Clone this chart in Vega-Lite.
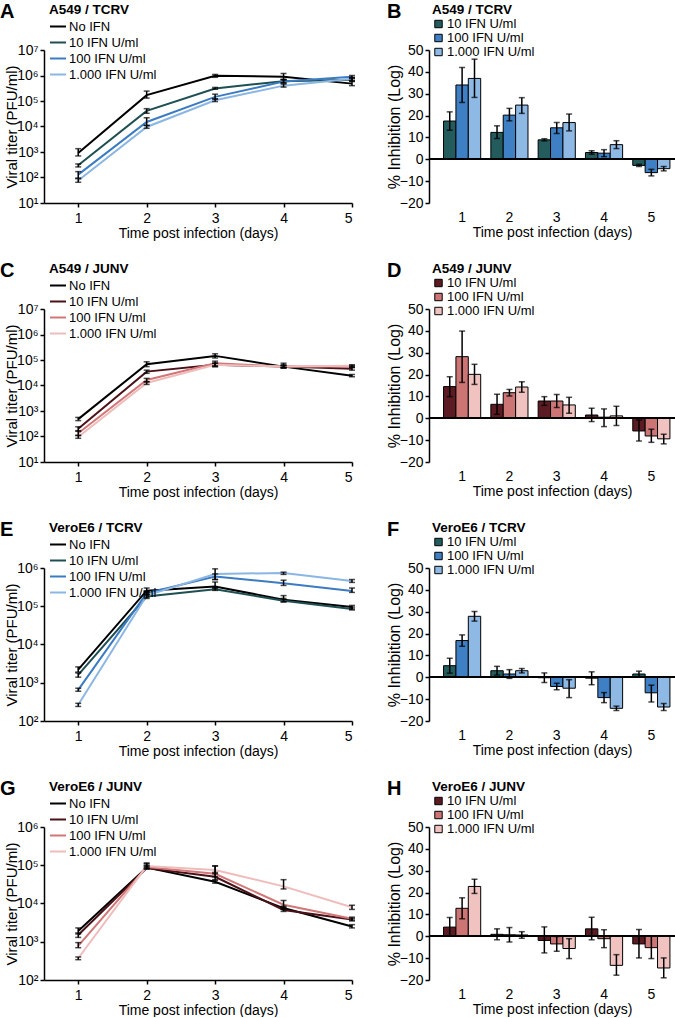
{
"$schema": "https://vega.github.io/schema/vega-lite/v6.json",
"padding": {"top": 2, "left": 0, "right": 0, "bottom": 0},
"columns": 2,
"spacing": {"row": 106, "column": 77},
"bounds": "flush",
"resolve": {"scale": {"color": "independent", "x": "independent", "y": "independent", "xOffset": "independent"}, "legend": {"color": "independent"}},
"config": {
  "font": "Liberation Sans",
  "view": {"stroke": null},
  "axis": {"labelFontSize": 14, "titleFontSize": 14, "titleFontWeight": "normal", "labelColor": "black", "titleColor": "black", "domainColor": "black", "tickColor": "black", "domainWidth": 1.5, "tickWidth": 1.5, "tickSize": 4, "grid": false, "labelOverlap": false},
  "legend": {"orient": "none", "titleFontSize": 13.5, "titleFontWeight": "bold", "titleColor": "black", "labelFontSize": 13, "labelColor": "black", "rowPadding": 0, "padding": 0, "titlePadding": 1, "labelOffset": 2},
  "title": {"anchor": "start", "frame": "group", "fontSize": 20, "fontWeight": "bold", "color": "black", "baseline": "alphabetic", "offset": -19}
},
"datasets": {
"lines": [
{"p":"A","g":"No IFN","d":1,"v":920,"lo":700,"hi":1350},
{"p":"A","g":"No IFN","d":2,"v":170000,"lo":130000,"hi":245000},
{"p":"A","g":"No IFN","d":3,"v":980000,"lo":850000,"hi":1100000},
{"p":"A","g":"No IFN","d":4,"v":900000,"lo":700000,"hi":1200000},
{"p":"A","g":"No IFN","d":5,"v":480000,"lo":400000,"hi":600000},
{"p":"A","g":"10 IFN U/ml","d":1,"v":300,"lo":260,"hi":340},
{"p":"A","g":"10 IFN U/ml","d":2,"v":41000,"lo":33000,"hi":50000},
{"p":"A","g":"10 IFN U/ml","d":3,"v":310000,"lo":290000,"hi":340000},
{"p":"A","g":"10 IFN U/ml","d":4,"v":600000,"lo":520000,"hi":700000},
{"p":"A","g":"10 IFN U/ml","d":5,"v":680000,"lo":580000,"hi":780000},
{"p":"A","g":"100 IFN U/ml","d":1,"v":130,"lo":95,"hi":170},
{"p":"A","g":"100 IFN U/ml","d":2,"v":15000,"lo":11000,"hi":22000},
{"p":"A","g":"100 IFN U/ml","d":3,"v":145000,"lo":120000,"hi":185000},
{"p":"A","g":"100 IFN U/ml","d":4,"v":580000,"lo":500000,"hi":680000},
{"p":"A","g":"100 IFN U/ml","d":5,"v":900000,"lo":800000,"hi":1000000},
{"p":"A","g":"1.000 IFN U/ml","d":1,"v":76,"lo":65,"hi":90},
{"p":"A","g":"1.000 IFN U/ml","d":2,"v":9600,"lo":8500,"hi":11000},
{"p":"A","g":"1.000 IFN U/ml","d":3,"v":107000,"lo":95000,"hi":120000},
{"p":"A","g":"1.000 IFN U/ml","d":4,"v":400000,"lo":350000,"hi":460000},
{"p":"A","g":"1.000 IFN U/ml","d":5,"v":750000,"lo":650000,"hi":850000},
{"p":"C","g":"No IFN","d":1,"v":480,"lo":420,"hi":560},
{"p":"C","g":"No IFN","d":2,"v":68000,"lo":55000,"hi":85000},
{"p":"C","g":"No IFN","d":3,"v":145000,"lo":120000,"hi":175000},
{"p":"C","g":"No IFN","d":4,"v":55000,"lo":48000,"hi":75000},
{"p":"C","g":"No IFN","d":5,"v":24000,"lo":22000,"hi":27000},
{"p":"C","g":"10 IFN U/ml","d":1,"v":200,"lo":160,"hi":240},
{"p":"C","g":"10 IFN U/ml","d":2,"v":35000,"lo":30000,"hi":40000},
{"p":"C","g":"10 IFN U/ml","d":3,"v":65000,"lo":55000,"hi":75000},
{"p":"C","g":"10 IFN U/ml","d":4,"v":55000,"lo":50000,"hi":65000},
{"p":"C","g":"10 IFN U/ml","d":5,"v":45000,"lo":40000,"hi":52000},
{"p":"C","g":"100 IFN U/ml","d":1,"v":135,"lo":110,"hi":170},
{"p":"C","g":"100 IFN U/ml","d":2,"v":16500,"lo":14000,"hi":19000},
{"p":"C","g":"100 IFN U/ml","d":3,"v":75000,"lo":60000,"hi":90000},
{"p":"C","g":"100 IFN U/ml","d":4,"v":55000,"lo":50000,"hi":60000},
{"p":"C","g":"100 IFN U/ml","d":5,"v":55000,"lo":50000,"hi":60000},
{"p":"C","g":"1.000 IFN U/ml","d":1,"v":95,"lo":85,"hi":110},
{"p":"C","g":"1.000 IFN U/ml","d":2,"v":12500,"lo":11000,"hi":14000},
{"p":"C","g":"1.000 IFN U/ml","d":3,"v":65000,"lo":55000,"hi":75000},
{"p":"C","g":"1.000 IFN U/ml","d":4,"v":55000,"lo":50000,"hi":60000},
{"p":"C","g":"1.000 IFN U/ml","d":5,"v":60000,"lo":55000,"hi":65000},
{"p":"E","g":"No IFN","d":1,"v":2200,"lo":1900,"hi":2600},
{"p":"E","g":"No IFN","d":2,"v":255000,"lo":230000,"hi":300000},
{"p":"E","g":"No IFN","d":3,"v":330000,"lo":300000,"hi":430000},
{"p":"E","g":"No IFN","d":4,"v":148000,"lo":130000,"hi":190000},
{"p":"E","g":"No IFN","d":5,"v":95000,"lo":85000,"hi":105000},
{"p":"E","g":"10 IFN U/ml","d":1,"v":1600,"lo":1400,"hi":1800},
{"p":"E","g":"10 IFN U/ml","d":2,"v":180000,"lo":160000,"hi":200000},
{"p":"E","g":"10 IFN U/ml","d":3,"v":280000,"lo":260000,"hi":300000},
{"p":"E","g":"10 IFN U/ml","d":4,"v":140000,"lo":130000,"hi":160000},
{"p":"E","g":"10 IFN U/ml","d":5,"v":85000,"lo":80000,"hi":95000},
{"p":"E","g":"100 IFN U/ml","d":1,"v":650,"lo":600,"hi":720},
{"p":"E","g":"100 IFN U/ml","d":2,"v":220000,"lo":200000,"hi":240000},
{"p":"E","g":"100 IFN U/ml","d":3,"v":600000,"lo":500000,"hi":700000},
{"p":"E","g":"100 IFN U/ml","d":4,"v":400000,"lo":350000,"hi":480000},
{"p":"E","g":"100 IFN U/ml","d":5,"v":250000,"lo":230000,"hi":300000},
{"p":"E","g":"1.000 IFN U/ml","d":1,"v":265,"lo":240,"hi":290},
{"p":"E","g":"1.000 IFN U/ml","d":2,"v":190000,"lo":170000,"hi":210000},
{"p":"E","g":"1.000 IFN U/ml","d":3,"v":700000,"lo":500000,"hi":950000},
{"p":"E","g":"1.000 IFN U/ml","d":4,"v":740000,"lo":680000,"hi":780000},
{"p":"E","g":"1.000 IFN U/ml","d":5,"v":460000,"lo":420000,"hi":500000},
{"p":"G","g":"No IFN","d":1,"v":1900,"lo":1600,"hi":2300},
{"p":"G","g":"No IFN","d":2,"v":87000,"lo":80000,"hi":95000},
{"p":"G","g":"No IFN","d":3,"v":37000,"lo":34000,"hi":40000},
{"p":"G","g":"No IFN","d":4,"v":7600,"lo":7000,"hi":8500},
{"p":"G","g":"No IFN","d":5,"v":2500,"lo":2300,"hi":2800},
{"p":"G","g":"10 IFN U/ml","d":1,"v":1500,"lo":1300,"hi":1700},
{"p":"G","g":"10 IFN U/ml","d":2,"v":85000,"lo":80000,"hi":115000},
{"p":"G","g":"10 IFN U/ml","d":3,"v":50000,"lo":42000,"hi":60000},
{"p":"G","g":"10 IFN U/ml","d":4,"v":6800,"lo":6200,"hi":7500},
{"p":"G","g":"10 IFN U/ml","d":5,"v":3800,"lo":3500,"hi":4100},
{"p":"G","g":"100 IFN U/ml","d":1,"v":780,"lo":700,"hi":950},
{"p":"G","g":"100 IFN U/ml","d":2,"v":90000,"lo":85000,"hi":100000},
{"p":"G","g":"100 IFN U/ml","d":3,"v":60000,"lo":50000,"hi":95000},
{"p":"G","g":"100 IFN U/ml","d":4,"v":9300,"lo":8000,"hi":12000},
{"p":"G","g":"100 IFN U/ml","d":5,"v":4000,"lo":3700,"hi":4400},
{"p":"G","g":"1.000 IFN U/ml","d":1,"v":370,"lo":340,"hi":400},
{"p":"G","g":"1.000 IFN U/ml","d":2,"v":95000,"lo":90000,"hi":110000},
{"p":"G","g":"1.000 IFN U/ml","d":3,"v":75000,"lo":65000,"hi":97000},
{"p":"G","g":"1.000 IFN U/ml","d":4,"v":28000,"lo":24000,"hi":42000},
{"p":"G","g":"1.000 IFN U/ml","d":5,"v":8000,"lo":7000,"hi":9000}
],
"bars": [
{"p":"B","g":"10 IFN U/ml","d":"1","v":17.5,"lo":13.3,"hi":21.7},
{"p":"B","g":"100 IFN U/ml","d":"1","v":34,"lo":26,"hi":42},
{"p":"B","g":"1.000 IFN U/ml","d":"1","v":37,"lo":28.3,"hi":45.8},
{"p":"B","g":"10 IFN U/ml","d":"2","v":12.3,"lo":9.5,"hi":15.3},
{"p":"B","g":"100 IFN U/ml","d":"2","v":20.2,"lo":17.6,"hi":23.3},
{"p":"B","g":"1.000 IFN U/ml","d":"2","v":24.8,"lo":21,"hi":28.2},
{"p":"B","g":"10 IFN U/ml","d":"3","v":8.9,"lo":8.4,"hi":9.4},
{"p":"B","g":"100 IFN U/ml","d":"3","v":14.4,"lo":11.8,"hi":16.8},
{"p":"B","g":"1.000 IFN U/ml","d":"3","v":16.8,"lo":13,"hi":20.7},
{"p":"B","g":"10 IFN U/ml","d":"4","v":3.1,"lo":2.3,"hi":3.9},
{"p":"B","g":"100 IFN U/ml","d":"4","v":2.8,"lo":1.2,"hi":4.4},
{"p":"B","g":"1.000 IFN U/ml","d":"4","v":6.7,"lo":4.9,"hi":8.5},
{"p":"B","g":"10 IFN U/ml","d":"5","v":-2.8,"lo":-3.3,"hi":-2.3},
{"p":"B","g":"100 IFN U/ml","d":"5","v":-6.1,"lo":-7.6,"hi":-4.6},
{"p":"B","g":"1.000 IFN U/ml","d":"5","v":-4.3,"lo":-5.3,"hi":-3.3},
{"p":"D","g":"10 IFN U/ml","d":"1","v":14.5,"lo":9.9,"hi":19},
{"p":"D","g":"100 IFN U/ml","d":"1","v":28.2,"lo":16.4,"hi":39.9},
{"p":"D","g":"1.000 IFN U/ml","d":"1","v":20.1,"lo":15.5,"hi":24.7},
{"p":"D","g":"10 IFN U/ml","d":"2","v":6.4,"lo":1.8,"hi":11},
{"p":"D","g":"100 IFN U/ml","d":"2","v":11.7,"lo":10.2,"hi":13.2},
{"p":"D","g":"1.000 IFN U/ml","d":"2","v":14.3,"lo":11.9,"hi":16.7},
{"p":"D","g":"10 IFN U/ml","d":"3","v":7.9,"lo":5.9,"hi":9.9},
{"p":"D","g":"100 IFN U/ml","d":"3","v":7.9,"lo":4.9,"hi":10.9},
{"p":"D","g":"1.000 IFN U/ml","d":"3","v":6.1,"lo":2.3,"hi":9.6},
{"p":"D","g":"10 IFN U/ml","d":"4","v":1.5,"lo":-1.5,"hi":4.6},
{"p":"D","g":"100 IFN U/ml","d":"4","v":0.5,"lo":-3.8,"hi":4.3},
{"p":"D","g":"1.000 IFN U/ml","d":"4","v":1.1,"lo":-3.3,"hi":5.5},
{"p":"D","g":"10 IFN U/ml","d":"5","v":-5.8,"lo":-10.4,"hi":-0.8},
{"p":"D","g":"100 IFN U/ml","d":"5","v":-8.1,"lo":-11,"hi":-5},
{"p":"D","g":"1.000 IFN U/ml","d":"5","v":-9.4,"lo":-11.7,"hi":-7.3},
{"p":"F","g":"10 IFN U/ml","d":"1","v":5.3,"lo":1.9,"hi":8.7},
{"p":"F","g":"100 IFN U/ml","d":"1","v":16.8,"lo":14.2,"hi":19.4},
{"p":"F","g":"1.000 IFN U/ml","d":"1","v":27.9,"lo":25.7,"hi":30.1},
{"p":"F","g":"10 IFN U/ml","d":"2","v":3,"lo":1,"hi":5},
{"p":"F","g":"100 IFN U/ml","d":"2","v":1.5,"lo":-0.5,"hi":3.5},
{"p":"F","g":"1.000 IFN U/ml","d":"2","v":3,"lo":2,"hi":4},
{"p":"F","g":"10 IFN U/ml","d":"3","v":-0.2,"lo":-2.4,"hi":2},
{"p":"F","g":"100 IFN U/ml","d":"3","v":-4.2,"lo":-5.7,"hi":-2.7},
{"p":"F","g":"1.000 IFN U/ml","d":"3","v":-5,"lo":-9.3,"hi":-1.1},
{"p":"F","g":"10 IFN U/ml","d":"4","v":-0.4,"lo":-3.4,"hi":2.5},
{"p":"F","g":"100 IFN U/ml","d":"4","v":-9.3,"lo":-11.6,"hi":-7},
{"p":"F","g":"1.000 IFN U/ml","d":"4","v":-14.2,"lo":-15.2,"hi":-13.2},
{"p":"F","g":"10 IFN U/ml","d":"5","v":1.5,"lo":0.2,"hi":2.8},
{"p":"F","g":"100 IFN U/ml","d":"5","v":-7.1,"lo":-11.3,"hi":-3.6},
{"p":"F","g":"1.000 IFN U/ml","d":"5","v":-13.6,"lo":-15.2,"hi":-12},
{"p":"H","g":"10 IFN U/ml","d":"1","v":4.2,"lo":0.1,"hi":8.6},
{"p":"H","g":"100 IFN U/ml","d":"1","v":12.8,"lo":8,"hi":17.6},
{"p":"H","g":"1.000 IFN U/ml","d":"1","v":22.8,"lo":19.6,"hi":26.1},
{"p":"H","g":"10 IFN U/ml","d":"2","v":0.9,"lo":-1.6,"hi":3.4},
{"p":"H","g":"100 IFN U/ml","d":"2","v":0.7,"lo":-2.6,"hi":4},
{"p":"H","g":"1.000 IFN U/ml","d":"2","v":0.6,"lo":-0.9,"hi":2.1},
{"p":"H","g":"10 IFN U/ml","d":"3","v":-1.9,"lo":-7.6,"hi":4.3},
{"p":"H","g":"100 IFN U/ml","d":"3","v":-3.5,"lo":-6.9,"hi":-0.1},
{"p":"H","g":"1.000 IFN U/ml","d":"3","v":-5.6,"lo":-10.2,"hi":-1.1},
{"p":"H","g":"10 IFN U/ml","d":"4","v":3.4,"lo":-1.6,"hi":8.7},
{"p":"H","g":"100 IFN U/ml","d":"4","v":-1.1,"lo":-5.2,"hi":3},
{"p":"H","g":"1.000 IFN U/ml","d":"4","v":-13.3,"lo":-17.8,"hi":-8.4},
{"p":"H","g":"10 IFN U/ml","d":"5","v":-3.5,"lo":-9.9,"hi":3.1},
{"p":"H","g":"100 IFN U/ml","d":"5","v":-5.2,"lo":-10.2,"hi":0.1},
{"p":"H","g":"1.000 IFN U/ml","d":"5","v":-14.5,"lo":-19,"hi":-9.9}
]
},
"concat": [
  {"width": 308, "height": 153, "data": {"name": "lines"}, "transform": [{"filter": "datum.p === 'A'"}],
   "title": {"text": "A", "dx": -44},
   "layer": [
    {"mark": {"type": "line", "strokeWidth": 2},
     "encoding": {
      "x": {"field": "d", "type": "quantitative", "scale": {"domain": [0.5, 5], "nice": false}, "axis": {"values": [1,2,3,4,5], "format": "d", "title": "Time post infection (days)", "labelPadding": 4, "titlePadding": 1}},
      "y": {"field": "v", "type": "quantitative", "scale": {"type": "log", "domain": [10, 10000000], "nice": false}, "axis": {"values": [10,100,1000,10000,100000,1000000,10000000], "labelOverlap": false, "labelExpr": "'10' + ['⁰','¹','²','³','⁴','⁵','⁶','⁷'][round(log(datum.value)/LN10)]", "title": "Viral titer (PFU/ml)", "titleFontSize": 15, "titlePadding": -3}},
      "color": {"field": "g", "type": "nominal", "scale": {"domain": ["No IFN","10 IFN U/ml","100 IFN U/ml","1.000 IFN U/ml"], "range": ["#000000","#1e4f52","#3b7bc2","#8bb6e3"]}, "legend": {"title": "A549 / TCRV", "legendX": 5, "legendY": -47, "symbolType": "stroke", "symbolSize": 256, "symbolStrokeWidth": 2}}
     }},
    {"mark": {"type": "rule", "color": "black", "strokeWidth": 1.5}, "encoding": {"x": {"field": "d", "type": "quantitative"}, "y": {"field": "lo", "type": "quantitative"}, "y2": {"field": "hi"}}},
    {"mark": {"type": "tick", "color": "black", "orient": "horizontal", "size": 6, "thickness": 1.5}, "encoding": {"x": {"field": "d", "type": "quantitative"}, "y": {"field": "hi", "type": "quantitative"}}},
    {"mark": {"type": "tick", "color": "black", "orient": "horizontal", "size": 6, "thickness": 1.5}, "encoding": {"x": {"field": "d", "type": "quantitative"}, "y": {"field": "lo", "type": "quantitative"}}}
   ]},
  {"width": 246, "height": 153, "data": {"name": "bars"}, "transform": [{"filter": "datum.p === 'B'"}],
   "title": {"text": "B", "dx": -42},
   "layer": [
    {"mark": {"type": "bar", "stroke": "black", "strokeWidth": 1},
     "encoding": {
      "x": {"field": "d", "type": "ordinal", "scale": {"paddingInner": 0, "paddingOuter": 0.1, "align": 1}, "axis": {"labelAngle": 0, "ticks": false, "domain": false, "labelPadding": 7, "title": "Time post infection (days)", "titlePadding": 1}},
      "xOffset": {"field": "g", "type": "nominal", "scale": {"domain": ["10 IFN U/ml","100 IFN U/ml","1.000 IFN U/ml"], "paddingInner": 0, "paddingOuter": 0.41}},
      "y": {"field": "v", "type": "quantitative", "scale": {"domain": [-20, 50], "nice": false}, "axis": {"values": [-20,-10,0,10,20,30,40,50], "labelOverlap": false, "tickCount": 8, "title": "% Inhibition (Log)", "titleFontSize": 16, "titlePadding": -3}},
      "color": {"field": "g", "type": "nominal", "scale": {"domain": ["10 IFN U/ml","100 IFN U/ml","1.000 IFN U/ml"], "range": ["#245c5e","#3f7fc3","#8fb9e5"]}, "legend": {"title": "A549 / TCRV", "legendX": 3, "legendY": -47, "symbolType": "square", "symbolSize": 55, "symbolStrokeColor": "black", "symbolStrokeWidth": 1}}
     }},
    {"mark": {"type": "rule", "color": "black", "strokeWidth": 1.5}, "encoding": {"x": {"field": "d", "type": "ordinal"}, "xOffset": {"field": "g", "type": "nominal"}, "y": {"field": "lo", "type": "quantitative"}, "y2": {"field": "hi"}}},
    {"mark": {"type": "tick", "color": "black", "orient": "horizontal", "size": 6, "thickness": 1.5}, "encoding": {"x": {"field": "d", "type": "ordinal"}, "xOffset": {"field": "g", "type": "nominal"}, "y": {"field": "hi", "type": "quantitative"}}},
    {"mark": {"type": "tick", "color": "black", "orient": "horizontal", "size": 6, "thickness": 1.5}, "encoding": {"x": {"field": "d", "type": "ordinal"}, "xOffset": {"field": "g", "type": "nominal"}, "y": {"field": "lo", "type": "quantitative"}}},
    {"mark": {"type": "rule", "color": "black", "strokeWidth": 1.5}, "encoding": {"y": {"datum": 0, "type": "quantitative"}}}
   ]},
  {"width": 308, "height": 153, "data": {"name": "lines"}, "transform": [{"filter": "datum.p === 'C'"}],
   "title": {"text": "C", "dx": -44},
   "layer": [
    {"mark": {"type": "line", "strokeWidth": 2},
     "encoding": {
      "x": {"field": "d", "type": "quantitative", "scale": {"domain": [0.5, 5], "nice": false}, "axis": {"values": [1,2,3,4,5], "format": "d", "title": "Time post infection (days)", "labelPadding": 4, "titlePadding": 1}},
      "y": {"field": "v", "type": "quantitative", "scale": {"type": "log", "domain": [10, 10000000], "nice": false}, "axis": {"values": [10,100,1000,10000,100000,1000000,10000000], "labelOverlap": false, "labelExpr": "'10' + ['⁰','¹','²','³','⁴','⁵','⁶','⁷'][round(log(datum.value)/LN10)]", "title": "Viral titer (PFU/ml)", "titleFontSize": 15, "titlePadding": -3}},
      "color": {"field": "g", "type": "nominal", "scale": {"domain": ["No IFN","10 IFN U/ml","100 IFN U/ml","1.000 IFN U/ml"], "range": ["#000000","#4a1119","#d17777","#efbcbc"]}, "legend": {"title": "A549 / JUNV", "legendX": 5, "legendY": -47, "symbolType": "stroke", "symbolSize": 256, "symbolStrokeWidth": 2}}
     }},
    {"mark": {"type": "rule", "color": "black", "strokeWidth": 1.5}, "encoding": {"x": {"field": "d", "type": "quantitative"}, "y": {"field": "lo", "type": "quantitative"}, "y2": {"field": "hi"}}},
    {"mark": {"type": "tick", "color": "black", "orient": "horizontal", "size": 6, "thickness": 1.5}, "encoding": {"x": {"field": "d", "type": "quantitative"}, "y": {"field": "hi", "type": "quantitative"}}},
    {"mark": {"type": "tick", "color": "black", "orient": "horizontal", "size": 6, "thickness": 1.5}, "encoding": {"x": {"field": "d", "type": "quantitative"}, "y": {"field": "lo", "type": "quantitative"}}}
   ]},
  {"width": 246, "height": 153, "data": {"name": "bars"}, "transform": [{"filter": "datum.p === 'D'"}],
   "title": {"text": "D", "dx": -42},
   "layer": [
    {"mark": {"type": "bar", "stroke": "black", "strokeWidth": 1},
     "encoding": {
      "x": {"field": "d", "type": "ordinal", "scale": {"paddingInner": 0, "paddingOuter": 0.1, "align": 1}, "axis": {"labelAngle": 0, "ticks": false, "domain": false, "labelPadding": 7, "title": "Time post infection (days)", "titlePadding": 1}},
      "xOffset": {"field": "g", "type": "nominal", "scale": {"domain": ["10 IFN U/ml","100 IFN U/ml","1.000 IFN U/ml"], "paddingInner": 0, "paddingOuter": 0.41}},
      "y": {"field": "v", "type": "quantitative", "scale": {"domain": [-20, 50], "nice": false}, "axis": {"values": [-20,-10,0,10,20,30,40,50], "labelOverlap": false, "tickCount": 8, "title": "% Inhibition (Log)", "titleFontSize": 16, "titlePadding": -3}},
      "color": {"field": "g", "type": "nominal", "scale": {"domain": ["10 IFN U/ml","100 IFN U/ml","1.000 IFN U/ml"], "range": ["#5c1a22","#cd7474","#f0c3c0"]}, "legend": {"title": "A549 / JUNV", "legendX": 3, "legendY": -47, "symbolType": "square", "symbolSize": 55, "symbolStrokeColor": "black", "symbolStrokeWidth": 1}}
     }},
    {"mark": {"type": "rule", "color": "black", "strokeWidth": 1.5}, "encoding": {"x": {"field": "d", "type": "ordinal"}, "xOffset": {"field": "g", "type": "nominal"}, "y": {"field": "lo", "type": "quantitative"}, "y2": {"field": "hi"}}},
    {"mark": {"type": "tick", "color": "black", "orient": "horizontal", "size": 6, "thickness": 1.5}, "encoding": {"x": {"field": "d", "type": "ordinal"}, "xOffset": {"field": "g", "type": "nominal"}, "y": {"field": "hi", "type": "quantitative"}}},
    {"mark": {"type": "tick", "color": "black", "orient": "horizontal", "size": 6, "thickness": 1.5}, "encoding": {"x": {"field": "d", "type": "ordinal"}, "xOffset": {"field": "g", "type": "nominal"}, "y": {"field": "lo", "type": "quantitative"}}},
    {"mark": {"type": "rule", "color": "black", "strokeWidth": 1.5}, "encoding": {"y": {"datum": 0, "type": "quantitative"}}}
   ]},
  {"width": 308, "height": 153, "data": {"name": "lines"}, "transform": [{"filter": "datum.p === 'E'"}],
   "title": {"text": "E", "dx": -44},
   "layer": [
    {"mark": {"type": "line", "strokeWidth": 2},
     "encoding": {
      "x": {"field": "d", "type": "quantitative", "scale": {"domain": [0.5, 5], "nice": false}, "axis": {"values": [1,2,3,4,5], "format": "d", "title": "Time post infection (days)", "labelPadding": 4, "titlePadding": 1}},
      "y": {"field": "v", "type": "quantitative", "scale": {"type": "log", "domain": [100, 1000000], "nice": false}, "axis": {"values": [100,1000,10000,100000,1000000], "labelOverlap": false, "labelExpr": "'10' + ['⁰','¹','²','³','⁴','⁵','⁶','⁷'][round(log(datum.value)/LN10)]", "title": "Viral titer (PFU/ml)", "titleFontSize": 15, "titlePadding": -3}},
      "color": {"field": "g", "type": "nominal", "scale": {"domain": ["No IFN","10 IFN U/ml","100 IFN U/ml","1.000 IFN U/ml"], "range": ["#000000","#1e4f52","#3b7bc2","#8bb6e3"]}, "legend": {"title": "VeroE6 / TCRV", "legendX": 5, "legendY": -47, "symbolType": "stroke", "symbolSize": 256, "symbolStrokeWidth": 2}}
     }},
    {"mark": {"type": "rule", "color": "black", "strokeWidth": 1.5}, "encoding": {"x": {"field": "d", "type": "quantitative"}, "y": {"field": "lo", "type": "quantitative"}, "y2": {"field": "hi"}}},
    {"mark": {"type": "tick", "color": "black", "orient": "horizontal", "size": 6, "thickness": 1.5}, "encoding": {"x": {"field": "d", "type": "quantitative"}, "y": {"field": "hi", "type": "quantitative"}}},
    {"mark": {"type": "tick", "color": "black", "orient": "horizontal", "size": 6, "thickness": 1.5}, "encoding": {"x": {"field": "d", "type": "quantitative"}, "y": {"field": "lo", "type": "quantitative"}}}
   ]},
  {"width": 246, "height": 153, "data": {"name": "bars"}, "transform": [{"filter": "datum.p === 'F'"}],
   "title": {"text": "F", "dx": -42},
   "layer": [
    {"mark": {"type": "bar", "stroke": "black", "strokeWidth": 1},
     "encoding": {
      "x": {"field": "d", "type": "ordinal", "scale": {"paddingInner": 0, "paddingOuter": 0.1, "align": 1}, "axis": {"labelAngle": 0, "ticks": false, "domain": false, "labelPadding": 7, "title": "Time post infection (days)", "titlePadding": 1}},
      "xOffset": {"field": "g", "type": "nominal", "scale": {"domain": ["10 IFN U/ml","100 IFN U/ml","1.000 IFN U/ml"], "paddingInner": 0, "paddingOuter": 0.41}},
      "y": {"field": "v", "type": "quantitative", "scale": {"domain": [-20, 50], "nice": false}, "axis": {"values": [-20,-10,0,10,20,30,40,50], "labelOverlap": false, "tickCount": 8, "title": "% Inhibition (Log)", "titleFontSize": 16, "titlePadding": -3}},
      "color": {"field": "g", "type": "nominal", "scale": {"domain": ["10 IFN U/ml","100 IFN U/ml","1.000 IFN U/ml"], "range": ["#245c5e","#3f7fc3","#8fb9e5"]}, "legend": {"title": "VeroE6 / TCRV", "legendX": 3, "legendY": -47, "symbolType": "square", "symbolSize": 55, "symbolStrokeColor": "black", "symbolStrokeWidth": 1}}
     }},
    {"mark": {"type": "rule", "color": "black", "strokeWidth": 1.5}, "encoding": {"x": {"field": "d", "type": "ordinal"}, "xOffset": {"field": "g", "type": "nominal"}, "y": {"field": "lo", "type": "quantitative"}, "y2": {"field": "hi"}}},
    {"mark": {"type": "tick", "color": "black", "orient": "horizontal", "size": 6, "thickness": 1.5}, "encoding": {"x": {"field": "d", "type": "ordinal"}, "xOffset": {"field": "g", "type": "nominal"}, "y": {"field": "hi", "type": "quantitative"}}},
    {"mark": {"type": "tick", "color": "black", "orient": "horizontal", "size": 6, "thickness": 1.5}, "encoding": {"x": {"field": "d", "type": "ordinal"}, "xOffset": {"field": "g", "type": "nominal"}, "y": {"field": "lo", "type": "quantitative"}}},
    {"mark": {"type": "rule", "color": "black", "strokeWidth": 1.5}, "encoding": {"y": {"datum": 0, "type": "quantitative"}}}
   ]},
  {"width": 308, "height": 153, "data": {"name": "lines"}, "transform": [{"filter": "datum.p === 'G'"}],
   "title": {"text": "G", "dx": -44},
   "layer": [
    {"mark": {"type": "line", "strokeWidth": 2},
     "encoding": {
      "x": {"field": "d", "type": "quantitative", "scale": {"domain": [0.5, 5], "nice": false}, "axis": {"values": [1,2,3,4,5], "format": "d", "title": "Time post infection (days)", "labelPadding": 4, "titlePadding": 1}},
      "y": {"field": "v", "type": "quantitative", "scale": {"type": "log", "domain": [100, 1000000], "nice": false}, "axis": {"values": [100,1000,10000,100000,1000000], "labelOverlap": false, "labelExpr": "'10' + ['⁰','¹','²','³','⁴','⁵','⁶','⁷'][round(log(datum.value)/LN10)]", "title": "Viral titer (PFU/ml)", "titleFontSize": 15, "titlePadding": -3}},
      "color": {"field": "g", "type": "nominal", "scale": {"domain": ["No IFN","10 IFN U/ml","100 IFN U/ml","1.000 IFN U/ml"], "range": ["#000000","#4a1119","#d17777","#efbcbc"]}, "legend": {"title": "VeroE6 / JUNV", "legendX": 5, "legendY": -47, "symbolType": "stroke", "symbolSize": 256, "symbolStrokeWidth": 2}}
     }},
    {"mark": {"type": "rule", "color": "black", "strokeWidth": 1.5}, "encoding": {"x": {"field": "d", "type": "quantitative"}, "y": {"field": "lo", "type": "quantitative"}, "y2": {"field": "hi"}}},
    {"mark": {"type": "tick", "color": "black", "orient": "horizontal", "size": 6, "thickness": 1.5}, "encoding": {"x": {"field": "d", "type": "quantitative"}, "y": {"field": "hi", "type": "quantitative"}}},
    {"mark": {"type": "tick", "color": "black", "orient": "horizontal", "size": 6, "thickness": 1.5}, "encoding": {"x": {"field": "d", "type": "quantitative"}, "y": {"field": "lo", "type": "quantitative"}}}
   ]},
  {"width": 246, "height": 153, "data": {"name": "bars"}, "transform": [{"filter": "datum.p === 'H'"}],
   "title": {"text": "H", "dx": -42},
   "layer": [
    {"mark": {"type": "bar", "stroke": "black", "strokeWidth": 1},
     "encoding": {
      "x": {"field": "d", "type": "ordinal", "scale": {"paddingInner": 0, "paddingOuter": 0.1, "align": 1}, "axis": {"labelAngle": 0, "ticks": false, "domain": false, "labelPadding": 7, "title": "Time post infection (days)", "titlePadding": 1}},
      "xOffset": {"field": "g", "type": "nominal", "scale": {"domain": ["10 IFN U/ml","100 IFN U/ml","1.000 IFN U/ml"], "paddingInner": 0, "paddingOuter": 0.41}},
      "y": {"field": "v", "type": "quantitative", "scale": {"domain": [-20, 50], "nice": false}, "axis": {"values": [-20,-10,0,10,20,30,40,50], "labelOverlap": false, "tickCount": 8, "title": "% Inhibition (Log)", "titleFontSize": 16, "titlePadding": -3}},
      "color": {"field": "g", "type": "nominal", "scale": {"domain": ["10 IFN U/ml","100 IFN U/ml","1.000 IFN U/ml"], "range": ["#5c1a22","#cd7474","#f0c3c0"]}, "legend": {"title": "VeroE6 / JUNV", "legendX": 3, "legendY": -47, "symbolType": "square", "symbolSize": 55, "symbolStrokeColor": "black", "symbolStrokeWidth": 1}}
     }},
    {"mark": {"type": "rule", "color": "black", "strokeWidth": 1.5}, "encoding": {"x": {"field": "d", "type": "ordinal"}, "xOffset": {"field": "g", "type": "nominal"}, "y": {"field": "lo", "type": "quantitative"}, "y2": {"field": "hi"}}},
    {"mark": {"type": "tick", "color": "black", "orient": "horizontal", "size": 6, "thickness": 1.5}, "encoding": {"x": {"field": "d", "type": "ordinal"}, "xOffset": {"field": "g", "type": "nominal"}, "y": {"field": "hi", "type": "quantitative"}}},
    {"mark": {"type": "tick", "color": "black", "orient": "horizontal", "size": 6, "thickness": 1.5}, "encoding": {"x": {"field": "d", "type": "ordinal"}, "xOffset": {"field": "g", "type": "nominal"}, "y": {"field": "lo", "type": "quantitative"}}},
    {"mark": {"type": "rule", "color": "black", "strokeWidth": 1.5}, "encoding": {"y": {"datum": 0, "type": "quantitative"}}}
   ]}
]
}
